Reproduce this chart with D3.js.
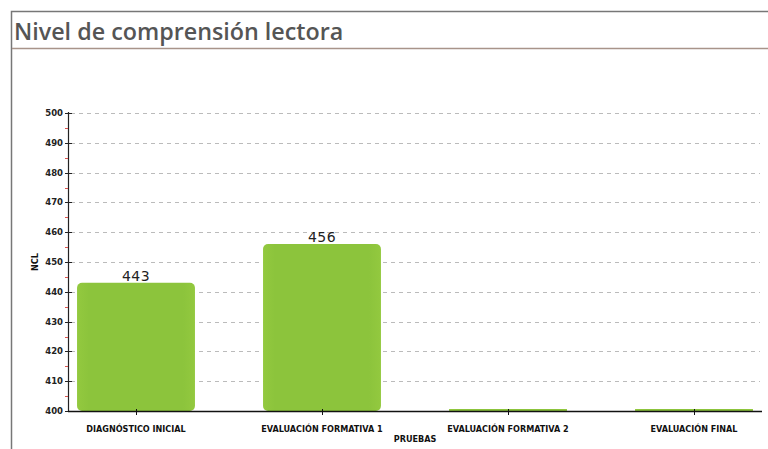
<!DOCTYPE html>
<html>
<head>
<meta charset="utf-8">
<script src="https://cdn.jsdelivr.net/npm/d3@7"></script>
<style>
	body { margin: 0; background: #fff; }
	svg { display: block; }
	.title { font-family: "Open Sans", sans-serif; font-weight: 600; font-size: 23.3px; fill: #555; }
	.tick-label { font-family: "DejaVu Sans", sans-serif; font-weight: bold; font-size: 8.5px; fill: #222; }
	.cat-label { font-family: "DejaVu Sans Condensed", "DejaVu Sans", sans-serif; font-weight: bold; font-size: 9px; fill: #111; }
	.value { font-family: "DejaVu Sans", sans-serif; font-size: 14px; fill: #222; letter-spacing: 0.5px; }
	.grid { stroke: #bbb; stroke-dasharray: 4,4; }
</style>
</head>
<body>
<svg id="chart"></svg>
<script>
const categories = ["DIAGNÓSTICO INICIAL", "EVALUACIÓN FORMATIVA 1", "EVALUACIÓN FORMATIVA 2", "EVALUACIÓN FINAL"];
const values = [443, 456, 0, 0];
const yTicks = [400, 410, 420, 430, 440, 450, 460, 470, 480, 490, 500];
const yMinor = [405, 415, 425, 435, 445, 455, 465, 475, 485, 495];
const titleText = "Nivel de comprensión lectora";
const yTitle = "NCL";
const xTitle = "PRUEBAS";

const width = 768;
const height = 449;

const svg = d3.select("#chart")
	.attr("width", width)
	.attr("height", height);

// frame + title
svg.append("path")
	.attr("d", "M 11.5,449 L 11.5,11.5 L 768,11.5")
	.attr("fill", "none")
	.attr("stroke", "#777")
	.attr("stroke-width", 1.5);
svg.append("text")
	.attr("class", "title")
	.attr("x", 14)
	.attr("y", 40)
	.text(titleText);
svg.append("line")
	.attr("x1", 12).attr("x2", 768)
	.attr("y1", 48.5).attr("y2", 48.5)
	.attr("stroke", "#a8948a")
	.attr("stroke-width", 1.5);

const axisLeft = 68;
const axisRight = 762;

const y = d3.scaleLinear()
	.domain([400, 500])
	.range([411, 113])
	.clamp(true);

const x = d3.scaleBand()
	.domain(categories)
	.range([43, 787])
	.paddingInner(0.366)
	.paddingOuter(0.183);

// grid
svg.selectAll(".grid")
	.data(yTicks.filter((d) => d !== 400))
	.enter()
	.append("line")
	.attr("class", "grid")
	.attr("x1", axisLeft + 3)
	.attr("x2", 760)
	.attr("y1", (d) => Math.round(y(d)) + 0.5)
	.attr("y2", (d) => Math.round(y(d)) + 0.5);

// bars
const barGrad = svg.append("defs")
	.append("linearGradient")
	.attr("id", "barGrad")
	.attr("x1", 0).attr("x2", 1).attr("y1", 0).attr("y2", 0);
barGrad.append("stop").attr("offset", "0%").attr("stop-color", "#93c93f");
barGrad.append("stop").attr("offset", "10%").attr("stop-color", "#8cc43c");
barGrad.append("stop").attr("offset", "90%").attr("stop-color", "#8cc43c");
barGrad.append("stop").attr("offset", "100%").attr("stop-color", "#93c93f");

const bars = categories.map((c, i) => ({ cat: c, value: values[i] }));

svg.selectAll(".bar")
	.data(bars)
	.enter()
	.append("rect")
	.attr("class", "bar")
	.attr("x", (d) => x(d.cat))
	.attr("width", x.bandwidth())
	.attr("y", (d) => Math.min(y(d.value), y(400) - 2))
	.attr("height", (d) => Math.max(y(400) - y(d.value), 2))
	.attr("rx", (d) => y(400) - y(d.value) > 10 ? 5 : 0)
	.attr("fill", "url(#barGrad)");

svg.selectAll(".value")
	.data(bars.filter((d) => d.value >= 400))
	.enter()
	.append("text")
	.attr("class", "value")
	.attr("x", (d) => x(d.cat) + x.bandwidth() / 2)
	.attr("y", (d) => y(d.value) - 2)
	.attr("text-anchor", "middle")
	.text((d) => d.value);

// y axis
svg.append("line")
	.attr("x1", axisLeft + 0.5).attr("x2", axisLeft + 0.5)
	.attr("y1", y(500) - 1).attr("y2", y(400))
	.attr("stroke", "#222")
	.attr("stroke-width", 1.2);
svg.selectAll(".ytick")
	.data(yTicks)
	.enter()
	.append("line")
	.attr("x1", axisLeft - 3).attr("x2", axisLeft + 4)
	.attr("y1", (d) => Math.round(y(d)) + 0.5)
	.attr("y2", (d) => Math.round(y(d)) + 0.5)
	.attr("stroke", "#222");
svg.selectAll(".yminor")
	.data(yMinor)
	.enter()
	.append("line")
	.attr("x1", axisLeft - 3).attr("x2", axisLeft)
	.attr("y1", (d) => Math.round(y(d)) + 0.5)
	.attr("y2", (d) => Math.round(y(d)) + 0.5)
	.attr("stroke", "#d9534f");
svg.selectAll(".tick-label")
	.data(yTicks)
	.enter()
	.append("text")
	.attr("class", "tick-label")
	.attr("x", axisLeft - 5)
	.attr("y", (d) => y(d))
	.attr("dy", "0.35em")
	.attr("text-anchor", "end")
	.text((d) => d);
svg.append("text")
	.attr("class", "cat-label")
	.attr("transform", `translate(38, ${y(450)}) rotate(-90)`)
	.attr("text-anchor", "middle")
	.text(yTitle);

// x axis
svg.append("line")
	.attr("x1", axisLeft).attr("x2", axisRight)
	.attr("y1", y(400) + 0.5).attr("y2", y(400) + 0.5)
	.attr("stroke", "#111")
	.attr("stroke-width", 1.5);
svg.selectAll(".xtick")
	.data(categories)
	.enter()
	.append("line")
	.attr("x1", (d) => Math.round(x(d) + x.bandwidth() / 2) + 0.5)
	.attr("x2", (d) => Math.round(x(d) + x.bandwidth() / 2) + 0.5)
	.attr("y1", y(400) - 2)
	.attr("y2", y(400) + 4)
	.attr("stroke", "#111");
svg.selectAll(".cat")
	.data(categories)
	.enter()
	.append("text")
	.attr("class", "cat-label")
	.attr("x", (d) => x(d) + x.bandwidth() / 2)
	.attr("y", 432)
	.attr("text-anchor", "middle")
	.text((d) => d);
svg.append("text")
	.attr("class", "cat-label")
	.attr("x", 415)
	.attr("y", 442)
	.attr("text-anchor", "middle")
	.text(xTitle);
</script>
</body>
</html>
